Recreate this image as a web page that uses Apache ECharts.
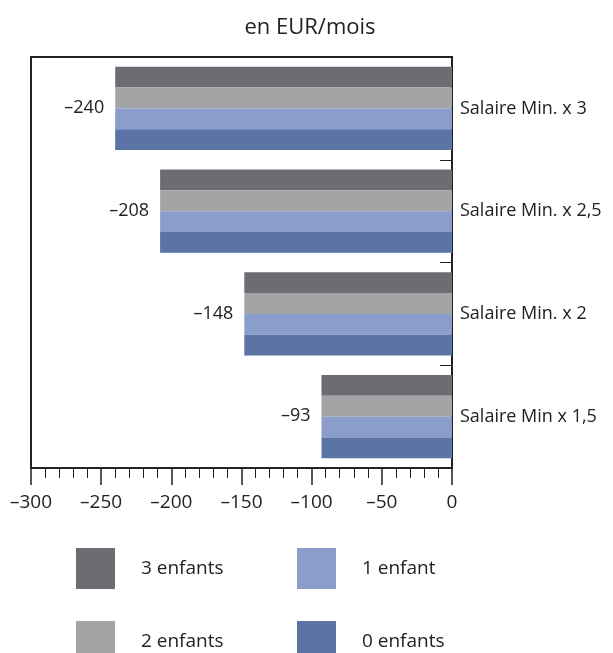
<!DOCTYPE html>
<html>
<head>
<meta charset="utf-8">
<script src="https://cdn.jsdelivr.net/npm/echarts@6/dist/echarts.min.js"></script>
<style>
html,body{margin:0;padding:0;background:#fff;}
#chart{width:613px;height:653px;}
</style>
</head>
<body>
<div id="chart"></div>
<script>
const categories = ['Salaire Min x 1,5', 'Salaire Min. x 2', 'Salaire Min. x 2,5', 'Salaire Min. x 3'];
const seriesNames = ['3 enfants', '2 enfants', '1 enfant', '0 enfants'];
const values3 = [-93, -148, -208, -240];
const values2 = [-93, -148, -208, -240];
const values1 = [-93, -148, -208, -240];
const values0 = [-93, -148, -208, -240];
const colors = ['#6c6d72', '#a3a4a6', '#8b9dca', '#5b73a5'];
const xTicks = { min: -300, max: 0, interval: 50 };

const FONT = '"Open Sans", "Noto Sans", sans-serif';
const dash = v => String(v).replace('-', '\u2013');
const allValues = [values3, values2, values1, values0];

const series = seriesNames.map((name, i) => ({
  name: name,
  type: 'bar',
  data: allValues[i],
  barGap: '0%',
  barCategoryGap: '19%',
  itemStyle: { color: colors[i] },
  label: i === 1 ? {
    show: true,
    position: 'left',
    distance: 11,
    offset: [0, 10],
    color: '#222',
    fontFamily: FONT,
    fontSize: 18,
    formatter: p => dash(p.value)
  } : { show: false },
  silent: true
}));

const legendPos = [
  { name: '3 enfants', left: 76, top: 548 },
  { name: '2 enfants', left: 76, top: 621 },
  { name: '1 enfant', left: 297, top: 548 },
  { name: '0 enfants', left: 297, top: 621 }
];
const legends = legendPos.map(l => ({
  data: [l.name],
  left: l.left, top: l.top,
  padding: 0,
  itemWidth: 39, itemHeight: 41,
  icon: 'rect',
  textStyle: { fontFamily: FONT, fontSize: 19, color: '#222', padding: [0, 0, 0, 21] },
  selectedMode: false
}));

const chart = echarts.init(document.getElementById('chart'));
chart.setOption({
  animation: false,
  title: {
    text: 'en EUR/mois',
    left: 310,
    textAlign: 'center',
    top: 17,
    padding: 0,
    textStyle: { fontFamily: FONT, fontSize: 22, fontWeight: 'normal', color: '#222' }
  },
  grid: {
    left: 31, right: 161, top: 57, bottom: 185,
    show: true, borderColor: '#222', borderWidth: 2, backgroundColor: 'transparent'
  },
  legend: legends,
  xAxis: {
    type: 'value',
    min: xTicks.min, max: xTicks.max, interval: xTicks.interval,
    axisLine: { show: true, onZero: false, lineStyle: { color: '#222', width: 2 } },
    axisTick: { show: true, length: 17, lineStyle: { color: '#222', width: 1.5 } },
    minorTick: { show: true, splitNumber: 5, length: 10, lineStyle: { color: '#222', width: 1 } },
    splitLine: { show: false },
    axisLabel: {
      margin: 25, color: '#222', fontFamily: FONT, fontSize: 19,
      formatter: v => dash(v)
    }
  },
  yAxis: {
    type: 'category',
    data: categories,
    position: 'right',
    axisLine: { show: true, lineStyle: { color: '#222', width: 2 } },
    axisTick: { show: true, inside: true, length: 12, lineStyle: { color: '#222', width: 1 } },
    axisLabel: { margin: 8, color: '#222', fontFamily: FONT, fontSize: 18, padding: [6, 0, 0, 0] },
    splitLine: { show: false }
  },
  series: series
});
</script>
</body>
</html>
